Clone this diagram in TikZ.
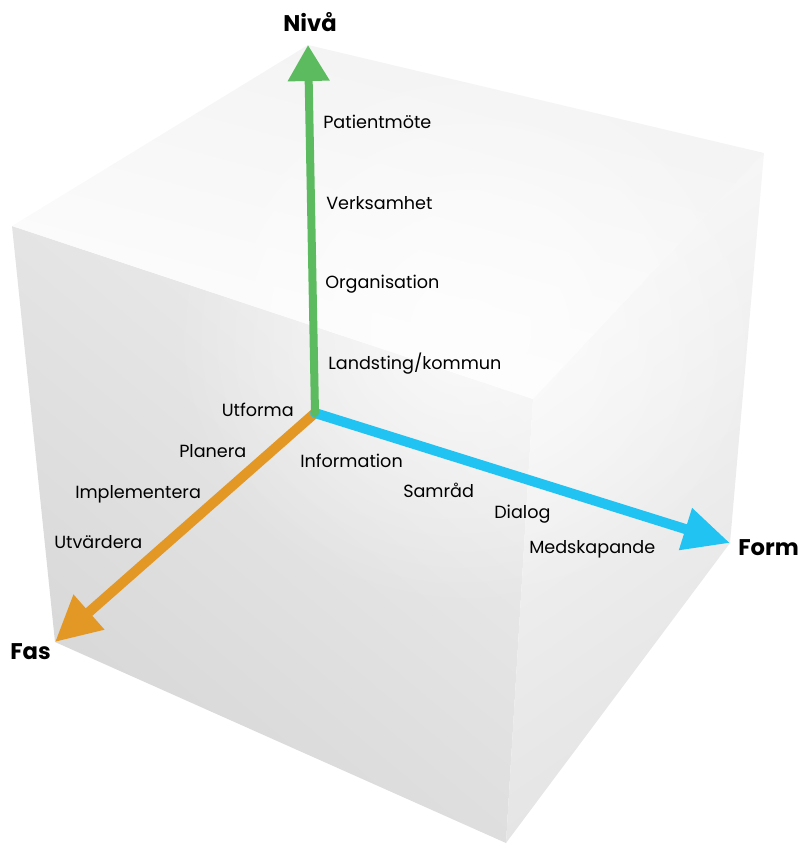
\documentclass[tikz,border=0pt]{standalone}
\usepackage{fontspec}
\setmainfont{Poppins}
\usetikzlibrary{arrows.meta,fadings}

\definecolor{axisgreen}{HTML}{5CBB5F}
\definecolor{axisorange}{HTML}{E39826}
\definecolor{axisblue}{HTML}{21C3F2}
\definecolor{topA}{HTML}{F2F2F2}
\definecolor{topB}{HTML}{FEFEFE}
\definecolor{leftA}{HTML}{EDEDED}
\definecolor{leftB}{HTML}{D6D6D6}
\definecolor{rightA}{HTML}{F8F8F8}
\definecolor{rightB}{HTML}{E3E3E3}

% smooth radial falloff for the highlight
\tikzfading[name=softglow, inner color=transparent!0, outer color=transparent!100]

\tikzset{
  axisline/.style={line width=#1, line cap=round},
  itemlabel/.style={font=\fontsize{13.2}{15}\selectfont, inner sep=0pt, text=black},
  axistitle/.style={font=\fontsize{17}{19}\selectfont\bfseries, inner sep=0pt},
}

\begin{document}
\begin{tikzpicture}[x=0.75pt,y=-0.75pt]
\useasboundingbox (0,0) rectangle (799,844);

% cube corners (screen coordinates, y downward)
\coordinate (T)  at (308,45);
\coordinate (L)  at (12,226);
\coordinate (F)  at (533,399);
\coordinate (R)  at (764,153);
\coordinate (LB) at (55,642);
\coordinate (B)  at (506,843);
\coordinate (RB) at (730,543);
\coordinate (O)  at (315,413);

% cube faces
\shade[top color=leftA, bottom color=leftB, shading angle=-40]
  (L) -- (F) -- (B) -- (LB) -- cycle;
\shade[top color=rightA, bottom color=rightB, shading angle=35]
  (F) -- (R) -- (RB) -- (B) -- cycle;
\shade[top color=topA, bottom color=topB, shading angle=-15]
  (T) -- (R) -- (F) -- (L) -- cycle;

% soft highlight in the middle of the cube
\begin{scope}
  \clip (T) -- (R) -- (RB) -- (B) -- (LB) -- (L) -- cycle;
  \fill[white, opacity=0.75, path fading=softglow]
    (470,330) ellipse [x radius=300, y radius=280];
\end{scope}

% axes
\draw[axisline=7.5pt, axisorange,
      -{Triangle[length=34pt, width=33pt]}] (O) -- (LB);
\draw[axisline=7.5pt, axisblue,
      -{Triangle[length=35pt, width=31pt]}] (O) -- (RB);
\draw[axisline=6pt, axisgreen,
      -{Triangle[length=27pt, width=30pt]}] (O) -- (T);

% axis titles
\node[axistitle, anchor=base] (niva) at (310,31) {Nivå};
\node[axistitle, anchor=base west] (form) at (738,555) {Form};
\node[axistitle, anchor=base west] (fas) at (10,659) {Fas};

% levels
\node[itemlabel, anchor=base west] (l1) at (323,128) {Patientmöte};
\node[itemlabel, anchor=base west] (l2) at (326,209) {Verksamhet};
\node[itemlabel, anchor=base west] (l3) at (325,288) {Organisation};
\node[itemlabel, anchor=base west] (l4) at (328,369) {Landsting/kommun};

% phases
\node[itemlabel, anchor=base east] (p1) at (294,416) {Utforma};
\node[itemlabel, anchor=base west] (p2) at (179,457) {Planera};
\node[itemlabel, anchor=base west] (p3) at (75,498) {Implementera};
\node[itemlabel, anchor=base west] (p4) at (54,548) {Utvärdera};

% forms
\node[itemlabel, anchor=base west] (f1) at (300,467) {Information};
\node[itemlabel, anchor=base west] (f2) at (403,497) {Samråd};
\node[itemlabel, anchor=base west] (f3) at (494,518) {Dialog};
\node[itemlabel, anchor=base west] (f4) at (529,553) {Medskapande};
\end{tikzpicture}
\end{document}
